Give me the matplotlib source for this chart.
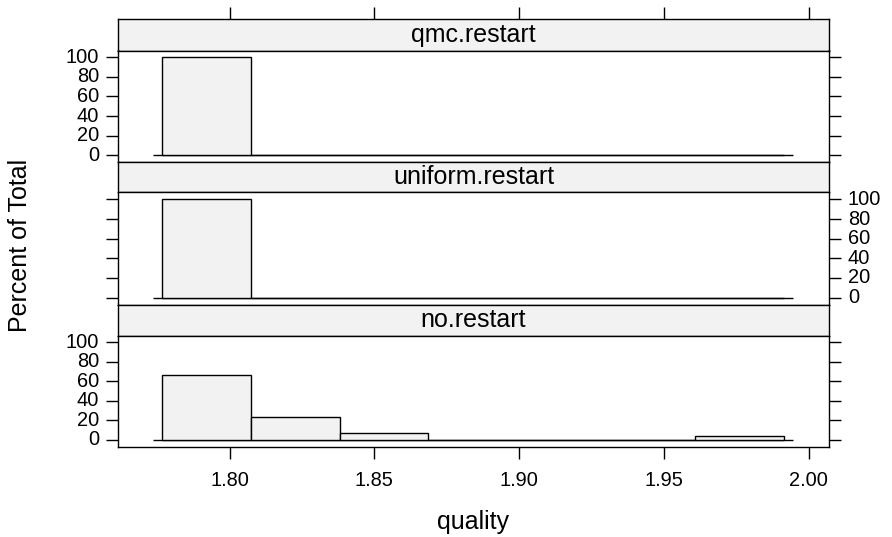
import numpy as np
import matplotlib
matplotlib.use('Agg')
import matplotlib.pyplot as plt

plt.rcParams['font.family'] = ['Liberation Sans', 'DejaVu Sans']

# histogram data (percent of total per bin)
bin_edges = [1.7766, 1.8073, 1.8380, 1.8687, 1.8994, 1.9301, 1.9608, 1.9915]
panel_names = ['qmc.restart', 'uniform.restart', 'no.restart']
qmc_pct = [100.0, 0, 0, 0, 0, 0, 0]
uniform_pct = [100.0, 0, 0, 0, 0, 0, 0]
no_pct = [66.7, 23.3, 6.7, 0, 0, 0, 3.3]
x_ticks = [1.80, 1.85, 1.90, 1.95, 2.00]
x_ticklabels = ['1.80', '1.85', '1.90', '1.95', '2.00']
y_ticks = [0, 20, 40, 60, 80, 100]
baseline_ext = 0.0029

W, H = 892, 537
fig = plt.figure(figsize=(W / 100, H / 100), dpi=100)

fill = '#F2F2F2'
lw = 1.0
xlim = (1.7615, 2.0070)
ylim = (-7, 107)
tick_len = 8.5
tick_fs = 14.4


def add_axes_px(x0, y0, x1, y1):
    # pixel coords from top-left
    return fig.add_axes([x0 / W, 1 - y1 / H, (x1 - x0) / W, (y1 - y0) / H])


px_left, px_right = 118, 829
strips = [(19, 50.5), (162, 192.5), (304.5, 335.5)]
panels = [(50.5, 162), (192.5, 304.5), (335.5, 446.5)]
series = [qmc_pct, uniform_pct, no_pct]
label_side = ['left', 'right', 'left']

edges = np.array(bin_edges)
widths = np.diff(edges)

for i in range(3):
    s0, s1 = strips[i]
    p0, p1 = panels[i]

    sax = add_axes_px(px_left, s0, px_right, s1)
    sax.set_facecolor(fill)
    sax.set_xlim(xlim)
    sax.set_ylim(0, 1)
    sax.set_yticks([])
    for sp in sax.spines.values():
        sp.set_linewidth(lw)
    sax.text(0.5, 0.5, panel_names[i], transform=sax.transAxes, ha='center',
             va='center', fontsize=18)
    if i == 0:
        sax.set_xticks(x_ticks)
        sax.tick_params(axis='x', top=True, bottom=False, labeltop=False,
                        labelbottom=False, length=tick_len, width=lw)
    else:
        sax.set_xticks([])

    ax = add_axes_px(px_left, p0, px_right, p1)
    ax.bar(edges[:-1], series[i], width=widths, align='edge', color=fill,
           edgecolor='black', linewidth=lw, zorder=2)
    ax.hlines(0, edges[0] - baseline_ext, edges[-1] + baseline_ext,
              color='black', linewidth=lw, zorder=1)
    ax.set_xlim(xlim)
    ax.set_ylim(ylim)
    for sp in ax.spines.values():
        sp.set_linewidth(lw)
    ax.set_yticks(y_ticks)
    ax.tick_params(axis='y', left=True, right=True, length=tick_len, width=lw,
                   labelsize=tick_fs, pad=5,
                   labelleft=(label_side[i] == 'left'),
                   labelright=(label_side[i] == 'right'))
    for lab in ax.get_yticklabels():
        lab.set_va('center')
    if i == 2:
        ax.set_xticks(x_ticks)
        ax.set_xticklabels(x_ticklabels)
        ax.tick_params(axis='x', length=tick_len, width=lw, labelsize=tick_fs, pad=9)
    else:
        ax.set_xticks([])

fig.text(473.5 / W, 1 - 522 / H, 'quality', ha='center', va='center', fontsize=18)
fig.text(20 / W, 1 - 245 / H, 'Percent of Total', ha='center', va='center',
         rotation=90, fontsize=18)

fig.savefig('out.png', dpi=100)
